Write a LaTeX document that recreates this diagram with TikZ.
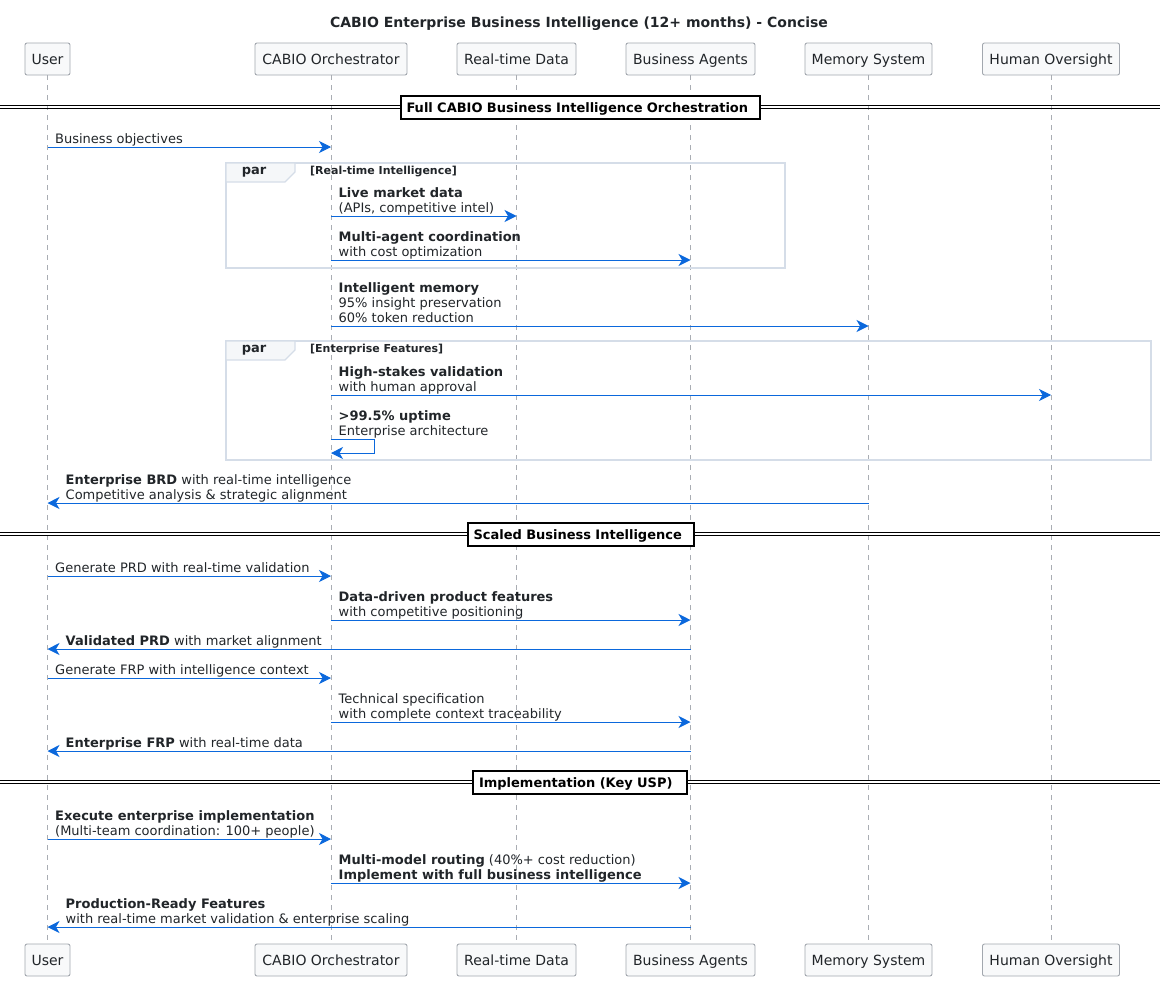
\documentclass[tikz,border=0pt]{standalone}
\usepackage{fontspec}
\setmainfont{DejaVu Sans}
\usetikzlibrary{arrows.meta}
\definecolor{ink}{HTML}{212529}
\definecolor{boxfill}{HTML}{F8F9FA}
\definecolor{boxline}{HTML}{A2A7AE}
\definecolor{lifecol}{HTML}{A9ADB3}
\definecolor{arrowcol}{HTML}{0B68DC}
\definecolor{grpline}{HTML}{D5DDE8}
\definecolor{tabfill}{HTML}{F5F7F9}
\tikzset{
 x=1pt,y=-1pt,
 actor/.style={draw=boxline,fill=boxfill,rounded corners=2pt,line width=0.9pt,minimum height=32pt,inner sep=0pt,text=ink,text height=13pt,text depth=2pt,font=\fontsize{14}{16}\selectfont},
 life/.style={draw=lifecol,line width=0.8pt,dash pattern=on 5pt off 5pt},
 msg/.style={draw=arrowcol,line width=0.9pt,-{Stealth[length=12pt,width=12pt,inset=3.5pt]}},
 lbl/.style={inner sep=0pt,anchor=south west,align=left,text=ink,yshift=-1pt,font=\fontsize{13}{15}\selectfont,execute at end node={\strut}},
 grp/.style={draw=grpline,line width=1.8pt},
 grptab/.style={draw=grpline,fill=tabfill,line width=1.2pt},
 grptxt/.style={inner sep=0pt,text=ink,font=\fontsize{13}{15}\selectfont\bfseries},
 grpcond/.style={inner sep=0pt,anchor=west,text=ink,font=\fontsize{11}{12}\selectfont\bfseries},
 divline/.style={draw=black,line width=1pt},
 divbox/.style={draw=black,fill=white,line width=2pt,inner ysep=0pt,inner xsep=6pt,minimum height=23pt,text=black,align=left,text height=11pt,text depth=1pt,font=\fontsize{13}{15}\selectfont\bfseries},
}
\newcommand{\msgR}[5]{% from, to, y, name, text
 \coordinate (#4a) at (#1 |- 0,#3); \coordinate (#4b) at (#2 |- 0,#3);
 \draw[msg] (#4a) -- (#4b);
 \node[lbl] (#4) at ([xshift=7.5pt]#4a) {#5};}
\newcommand{\msgL}[5]{% from, to, y, name, text
 \coordinate (#4a) at (#1 |- 0,#3); \coordinate (#4b) at (#2 |- 0,#3);
 \draw[msg] (#4a) -- (#4b);
 \node[lbl] (#4) at ([xshift=18pt]#4b) {#5};}
\newcommand{\dividerline}[5]{% y, name, left x, width, text
 \coordinate (#2l) at (0,#1); \coordinate (#2r) at (1160,#1);
 \draw[divline] ([yshift=-1.4pt]#2l) -- ([yshift=-1.4pt]#2r);
 \draw[divline] ([yshift=1.4pt]#2l) -- ([yshift=1.4pt]#2r);
 \node[divbox,anchor=west,text width=#4pt-12pt] (#2) at (#3,#1) {#5};}
\begin{document}
\begin{tikzpicture}
\useasboundingbox (0,0) rectangle (1166,980);
\node[inner sep=0pt,text=ink,font=\fontsize{14}{16}\selectfont\bfseries] (title) at (579,24) {CABIO Enterprise Business Intelligence (12+ months) - Concise};
% participants
\foreach \n/\xc/\w/\t in {u/47.5/45/User,c/331/152/CABIO Orchestrator,r/516.5/119/Real-time Data,b/690.5/129/Business Agents,m/868.5/127/Memory System,h/1051/137/Human Oversight}{
 \node[actor,minimum width=\w pt] (\n t) at (\xc,59) {\t};
 \node[actor,minimum width=\w pt] (\n e) at (\xc,960) {\t};
 \draw[life] (\n t) -- (\n e);
}
% groups
\draw[grp] (226,163) rectangle (785,268);
\coordinate (g1a) at (226,163);
\draw[grptab,fill=tabfill] (g1a) -- (295,163) -- (295,172) -- (285,182) -- (226,182) -- cycle;
\node[grptxt] (g1t) at (254,172.5) {par};
\node[grpcond] (g1c) at (310,171.5) {[Real-time Intelligence]};
\draw[grp] (226,341) rectangle (1151,460);
\coordinate (g2a) at (226,341);
\draw[grptab,fill=tabfill] (g2a) -- (295,341) -- (295,350) -- (285,360) -- (226,360) -- cycle;
\node[grptxt] (g2t) at (254,350.5) {par};
\node[grpcond] (g2c) at (310,349.5) {[Enterprise Features]};
% dividers
\dividerline{107}{d1}{399.5}{359.5}{Full CABIO Business Intelligence Orchestration}
\dividerline{534}{d2}{466.5}{226}{Scaled Business Intelligence}
\dividerline{782}{d3}{472}{214}{Implementation (Key USP)}
% messages
\msgR{ut}{ct}{147}{m1}{Business objectives}
\msgR{ct}{rt}{216}{m2}{\textbf{Live market data}\\(APIs, competitive intel)}
\msgR{ct}{bt}{260}{m3}{\textbf{Multi-agent coordination}\\with cost optimization}
\msgR{ct}{mt}{326}{m4}{\textbf{Intelligent memory}\\95\% insight preservation\\60\% token reduction}
\msgR{ct}{ht}{395}{m5}{\textbf{High-stakes validation}\\with human approval}
\coordinate (s1) at (ct |- 0,439); \coordinate (s2) at (ct |- 0,453);
\draw[msg] (s1) -- ++(43,0) |- (s2);
\node[lbl] (m6) at ([xshift=7.5pt]s1) {\textbf{>99.5\% uptime}\\Enterprise architecture};
\msgL{mt}{ut}{503}{m7}{\textbf{Enterprise BRD} with real-time intelligence\\Competitive analysis \& strategic alignment}
\msgR{ut}{ct}{576}{m8}{Generate PRD with real-time validation}
\msgR{ct}{bt}{620}{m9}{\textbf{Data-driven product features}\\with competitive positioning}
\msgL{bt}{ut}{649}{m10}{\textbf{Validated PRD} with market alignment}
\msgR{ut}{ct}{678}{m11}{Generate FRP with intelligence context}
\msgR{ct}{bt}{722}{m12}{Technical specification\\with complete context traceability}
\msgL{bt}{ut}{751}{m13}{\textbf{Enterprise FRP} with real-time data}
\msgR{ut}{ct}{839}{m14}{\textbf{Execute enterprise implementation}\\(Multi-team coordination: 100+ people)}
\msgR{ct}{bt}{883}{m15}{\textbf{Multi-model routing} (40\%+ cost reduction)\\\textbf{Implement with full business intelligence}}
\msgL{bt}{ut}{927}{m16}{\textbf{Production-Ready Features}\\with real-time market validation \& enterprise scaling}
\end{tikzpicture}
\end{document}
